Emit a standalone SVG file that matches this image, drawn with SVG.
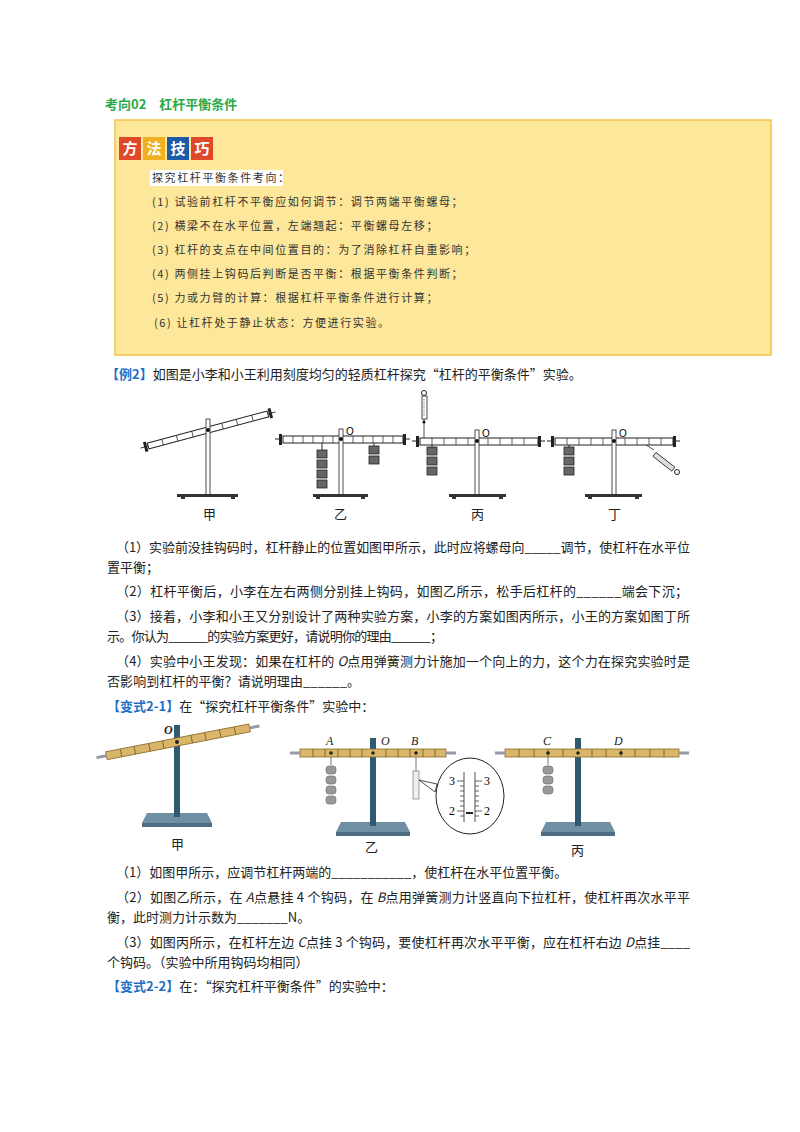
<svg xmlns="http://www.w3.org/2000/svg" width="800" height="1132" viewBox="0 0 800 1132">
<style>
.t{font-family:"Noto Sans CJK SC","Liberation Serif",serif;font-size:13px;fill:#222}
.s{font-family:"Noto Sans CJK SC",serif;font-size:11px;fill:#333;letter-spacing:1.6px}
.b{fill:#1e6fc8;font-weight:bold}
.bar{fill:#fff;stroke:#222;stroke-width:1}
.blk{fill:#666;stroke:#222;stroke-width:0.8}
.rod{fill:#fff;stroke:#222;stroke-width:0.8}
.tan{fill:#d9b66a;stroke:#8a6a2a;stroke-width:0.8}
.stl{fill:#4d6e82}
.it{font-family:"Liberation Serif",serif;font-style:italic;font-size:12px;fill:#222}
</style>
<rect width="800" height="1132" fill="#fff"/>
<g id="header">
<text x="105" y="109" style="font-family:'Noto Sans CJK SC',sans-serif;font-size:13px;font-weight:bold;fill:#2aa84a">考向02　杠杆平衡条件</text>
</g>
<g id="tips">
<rect x="115" y="120" width="656" height="235" fill="#fde79a" stroke="#f3c24a" stroke-width="1.5"/>
<rect x="119" y="137" width="22" height="23" fill="#e0482a"/><rect x="143" y="137" width="22" height="23" fill="#f0b020"/>
<rect x="167" y="137" width="22" height="23" fill="#1d5aa8"/><rect x="191" y="137" width="22" height="23" fill="#e0482a"/>
<g style="font-family:'Noto Sans CJK SC',sans-serif;font-size:15px;font-weight:bold;fill:#fff" text-anchor="middle">
<text x="130" y="154">方</text><text x="154" y="154">法</text><text x="178" y="154">技</text><text x="202" y="154">巧</text></g>
<rect x="150" y="170" width="133" height="16" fill="#fff"/>
<text class="s" x="152" y="182">探究杠杆平衡条件考向：</text>
<text class="s" x="152" y="206">(1) 试验前杠杆不平衡应如何调节：调节两端平衡螺母；</text>
<text class="s" x="152" y="230">(2) 横梁不在水平位置，左端翘起：平衡螺母左移；</text>
<text class="s" x="152" y="254">(3) 杠杆的支点在中间位置目的：为了消除杠杆自重影响；</text>
<text class="s" x="152" y="278">(4) 两侧挂上钩码后判断是否平衡：根据平衡条件判断；</text>
<text class="s" x="152" y="302">(5) 力或力臂的计算：根据杠杆平衡条件进行计算；</text>
<text class="s" x="154" y="327">(6) 让杠杆处于静止状态：方便进行实验。</text>
</g>
<g id="ex2">
<text class="t" x="106" y="379"><tspan class="b">【例2】</tspan>如图是小李和小王利用刻度均匀的轻质杠杆探究“杠杆的平衡条件”实验。</text>
</g>
<g id="fig1" stroke-linecap="butt">
<g transform="rotate(-15 208 430)"><rect class="bar" x="146" y="427" width="124" height="6"/><path d="M161 427v6M176 427v6M192 427v6M223 427v6M238 427v6M254 427v6" stroke="#222" stroke-width="0.7"/><rect x="142" y="425" width="3" height="10" fill="#222"/><rect x="271" y="425" width="3" height="10" fill="#222"/><path d="M138 430h8M270 430h8" stroke="#222"/></g>
<rect class="rod" x="206" y="419" width="4" height="76"/><circle cx="208" cy="430" r="2" fill="#111"/>
<rect x="177" y="494" width="61" height="3" fill="#333"/><rect x="181" y="497" width="4" height="2" fill="#333"/><rect x="231" y="497" width="4" height="2" fill="#333"/>
<text class="t" x="203" y="519">甲</text>
<rect class="bar" x="283" y="436" width="120" height="7"/><path d="M293 436v7M303 436v7M313 436v7M323 436v7M333 436v7M353 436v7M363 436v7M373 436v7M383 436v7M393 436v7" stroke="#222" stroke-width="0.7"/>
<rect x="279" y="434" width="3" height="11" fill="#222"/><rect x="403" y="434" width="3" height="11" fill="#222"/><path d="M275 439h5M405 439h5" stroke="#222"/>
<rect class="rod" x="339" y="429" width="4" height="66"/><circle cx="341" cy="439" r="2" fill="#111"/><text x="346" y="435" style="font-family:'Liberation Sans',sans-serif;font-size:10px">O</text>
<path d="M322 443v8" stroke="#222"/><rect class="blk" x="317" y="450" width="10" height="8"/><rect class="blk" x="317" y="460" width="10" height="8"/><rect class="blk" x="317" y="470" width="10" height="8"/><rect class="blk" x="317" y="480" width="10" height="8"/>
<path d="M374 443v4" stroke="#222"/><rect class="blk" x="369" y="446" width="10" height="8"/><rect class="blk" x="369" y="456" width="10" height="8"/>
<rect x="313" y="494" width="55" height="3" fill="#333"/><rect x="316" y="497" width="4" height="2" fill="#333"/><rect x="361" y="497" width="4" height="2" fill="#333"/>
<text class="t" x="334" y="519">乙</text>
<rect class="bar" x="420" y="438" width="118" height="7"/><path d="M432 438v7M444 438v7M456 438v7M468 438v7M488 438v7M500 438v7M512 438v7M524 438v7" stroke="#222" stroke-width="0.7"/>
<rect x="416" y="436" width="3" height="11" fill="#222"/><rect x="538" y="436" width="3" height="11" fill="#222"/><path d="M412 441h5M540 441h5" stroke="#222"/>
<rect class="rod" x="475" y="430" width="4" height="65"/><circle cx="477" cy="441" r="2" fill="#111"/><text x="482" y="437" style="font-family:'Liberation Sans',sans-serif;font-size:10px">O</text>
<circle cx="424" cy="393" r="2.5" fill="none" stroke="#222"/><rect x="422" y="396" width="5" height="23" fill="#fff" stroke="#222" stroke-width="0.8"/><path d="M424 399v17" stroke="#777" stroke-dasharray="1 1"/><path d="M424 419v19" stroke="#222" stroke-width="0.8"/><circle cx="424" cy="422" r="1.5" fill="#111"/>
<path d="M432 445v3" stroke="#222"/><rect class="blk" x="427" y="447" width="10" height="8"/><rect class="blk" x="427" y="457" width="10" height="8"/><rect class="blk" x="427" y="467" width="10" height="8"/>
<rect x="449" y="494" width="57" height="3" fill="#333"/><rect x="452" y="497" width="4" height="2" fill="#333"/><rect x="499" y="497" width="4" height="2" fill="#333"/>
<text class="t" x="471" y="519">丙</text>
<rect class="bar" x="555" y="438" width="118" height="7"/><path d="M567 438v7M579 438v7M591 438v7M603 438v7M625 438v7M637 438v7M649 438v7M661 438v7" stroke="#222" stroke-width="0.7"/>
<rect x="551" y="436" width="3" height="11" fill="#222"/><rect x="673" y="436" width="3" height="11" fill="#222"/><path d="M547 441h5M675 441h5" stroke="#222"/>
<rect class="rod" x="612" y="430" width="4" height="65"/><circle cx="614" cy="441" r="2" fill="#111"/><text x="619" y="437" style="font-family:'Liberation Sans',sans-serif;font-size:10px">O</text>
<path d="M569 445v3" stroke="#222"/><rect class="blk" x="564" y="447" width="10" height="8"/><rect class="blk" x="564" y="457" width="10" height="8"/><rect class="blk" x="564" y="467" width="10" height="8"/>
<path d="M646 445l8 5" stroke="#222" stroke-width="0.8"/><g transform="rotate(38 665 462)"><rect x="652" y="460" width="24" height="5" fill="#ddd" stroke="#222" stroke-width="0.8"/></g><circle cx="677" cy="472" r="2.5" fill="#fff" stroke="#222"/>
<rect x="585" y="494" width="57" height="3" fill="#333"/><rect x="588" y="497" width="4" height="2" fill="#333"/><rect x="635" y="497" width="4" height="2" fill="#333"/>
<text class="t" x="608" y="519">丁</text>
</g>
<g id="ex2q">
<text class="t" x="116" y="552" textLength="574" lengthAdjust="spacing">（1）实验前没挂钩码时，杠杆静止的位置如图甲所示，此时应将螺母向_____调节，使杠杆在水平位</text>
<text class="t" x="107" y="572">置平衡；</text>
<text class="t" x="116" y="596" textLength="572" lengthAdjust="spacing">（2）杠杆平衡后，小李在左右两侧分别挂上钩码，如图乙所示，松手后杠杆的______端会下沉；</text>
<text class="t" x="116" y="621" textLength="574" lengthAdjust="spacing">（3）接着，小李和小王又分别设计了两种实验方案，小李的方案如图丙所示，小王的方案如图丁所</text>
<text class="t" x="107" y="641" textLength="336" lengthAdjust="spacing">示。你认为______的实验方案更好，请说明你的理由______；</text>
<text class="t" x="116" y="666" textLength="574" lengthAdjust="spacing">（4）实验中小王发现：如果在杠杆的 <tspan font-style="italic">O</tspan>点用弹簧测力计施加一个向上的力，这个力在探究实验时是</text>
<text class="t" x="107" y="686" textLength="253" lengthAdjust="spacing">否影响到杠杆的平衡？请说明理由______。</text>
<text class="t" x="107" y="711"><tspan class="b">【变式2-1】</tspan>在“探究杠杆平衡条件”实验中：</text>
</g>
<g id="fig2">
<path d="M147 813h60l5 10h-70z" fill="#6f8fa3"/><rect x="142" y="823" width="70" height="4" fill="#4d6e82"/>
<rect x="174" y="725" width="6" height="92" fill="#2f5a70"/>
<g transform="rotate(-11 177 742)"><rect class="tan" x="105" y="738" width="146" height="8"/><path d="M120 738v8M134 738v8M149 738v8M163 738v8M192 738v8M206 738v8M221 738v8M236 738v8" stroke="#6a4e1a" stroke-width="0.7"/><path d="M95 742h10M251 742h10" stroke="#99a" stroke-width="3"/></g>
<circle cx="177" cy="742" r="2" fill="#222"/>
<text class="it" x="164" y="734" font-weight="bold">O</text>
<text class="t" x="171" y="849" font-size="12">甲</text>
<path d="M341 822h64l5 10h-74z" fill="#6f8fa3"/><rect x="336" y="832" width="74" height="4" fill="#4d6e82"/>
<rect x="370" y="738" width="6" height="88" fill="#2f5a70"/>
<rect class="tan" x="300" y="749" width="146" height="8"/><path d="M313 749v8M325 749v8M338 749v8M350 749v8M362 749v8M386 749v8M398 749v8M410 749v8M423 749v8M435 749v8" stroke="#6a4e1a" stroke-width="0.7"/>
<path d="M290 753h10M446 753h10" stroke="#99a" stroke-width="3"/>
<circle cx="331" cy="753" r="1.8" fill="#222"/><circle cx="373" cy="753" r="1.8" fill="#222"/><circle cx="416" cy="753" r="1.8" fill="#222"/>
<text class="it" x="326" y="745">A</text><text class="it" x="381" y="745">O</text><text class="it" x="411" y="745">B</text>
<path d="M331 757v8M416 757v14" stroke="#777"/>
<g fill="#999" stroke="#666" stroke-width="0.6"><rect x="326" y="766" width="10" height="8" rx="3"/><rect x="326" y="776" width="10" height="8" rx="3"/><rect x="326" y="786" width="10" height="8" rx="3"/><rect x="326" y="796" width="10" height="8" rx="3"/></g>
<rect x="413" y="771" width="6" height="28" fill="#eee" stroke="#888" stroke-width="0.8"/>
<ellipse cx="470" cy="796" rx="34" ry="38" fill="#fff" stroke="#222" stroke-width="1"/>
<path d="M419 780l18 4-2 8z" fill="#fff" stroke="#222" stroke-width="0.8"/>
<path d="M464 772v50M475 772v50" stroke="#222" stroke-width="0.8"/>
<path d="M457 781h7M475 781h7M460 786h4M475 786h4M460 791h4M475 791h4M460 796h4M475 796h4M460 801h4M475 801h4M460 806h4M475 806h4M457 811h7M475 811h7M460 816h4M475 816h4" stroke="#222" stroke-width="0.7"/>
<path d="M466 813h7" stroke="#222" stroke-width="2"/>
<text x="449" y="785" style="font-family:'Liberation Serif',serif;font-size:12px">3</text><text x="484" y="785" style="font-family:'Liberation Serif',serif;font-size:12px">3</text>
<text x="449" y="815" style="font-family:'Liberation Serif',serif;font-size:12px">2</text><text x="484" y="815" style="font-family:'Liberation Serif',serif;font-size:12px">2</text>
<text class="t" x="365" y="852" font-size="12">乙</text>
<path d="M546 822h64l5 10h-74z" fill="#6f8fa3"/><rect x="541" y="832" width="74" height="4" fill="#4d6e82"/>
<rect x="575" y="738" width="6" height="88" fill="#2f5a70"/>
<rect class="tan" x="505" y="749" width="174" height="8"/><path d="M519 749v8M534 749v8M548 749v8M563 749v8M592 749v8M606 749v8M621 749v8M635 749v8M650 749v8M664 749v8" stroke="#6a4e1a" stroke-width="0.7"/>
<path d="M495 753h10M679 753h10" stroke="#99a" stroke-width="3"/>
<circle cx="548" cy="753" r="1.8" fill="#222"/><circle cx="578" cy="753" r="1.8" fill="#222"/><circle cx="621" cy="753" r="1.8" fill="#222"/>
<text class="it" x="543" y="745">C</text><text class="it" x="614" y="745">D</text>
<path d="M548 757v8" stroke="#777"/>
<g fill="#999" stroke="#666" stroke-width="0.6"><rect x="543" y="766" width="10" height="8" rx="3"/><rect x="543" y="776" width="10" height="8" rx="3"/><rect x="543" y="786" width="10" height="8" rx="3"/></g>
<text class="t" x="571" y="855" font-size="12">丙</text>
</g>
<g id="v21q">
<text class="t" x="116" y="877">（1）如图甲所示，应调节杠杆两端的___________，使杠杆在水平位置平衡。</text>
<text class="t" x="116" y="902" textLength="574" lengthAdjust="spacing">（2）如图乙所示，在 <tspan font-style="italic">A</tspan>点悬挂 4 个钩码，在 <tspan font-style="italic">B</tspan>点用弹簧测力计竖直向下拉杠杆，使杠杆再次水平平</text>
<text class="t" x="107" y="922">衡，此时测力计示数为_______N。</text>
<text class="t" x="116" y="947" textLength="574" lengthAdjust="spacing">（3）如图丙所示，在杠杆左边 <tspan font-style="italic">C</tspan>点挂 3 个钩码，要使杠杆再次水平平衡，应在杠杆右边 <tspan font-style="italic">D</tspan>点挂____</text>
<text class="t" x="107" y="967">个钩码。（实验中所用钩码均相同）</text>
<text class="t" x="107" y="991"><tspan class="b">【变式2-2】</tspan>在：“探究杠杆平衡条件”的实验中：</text>
</g>
</svg>
